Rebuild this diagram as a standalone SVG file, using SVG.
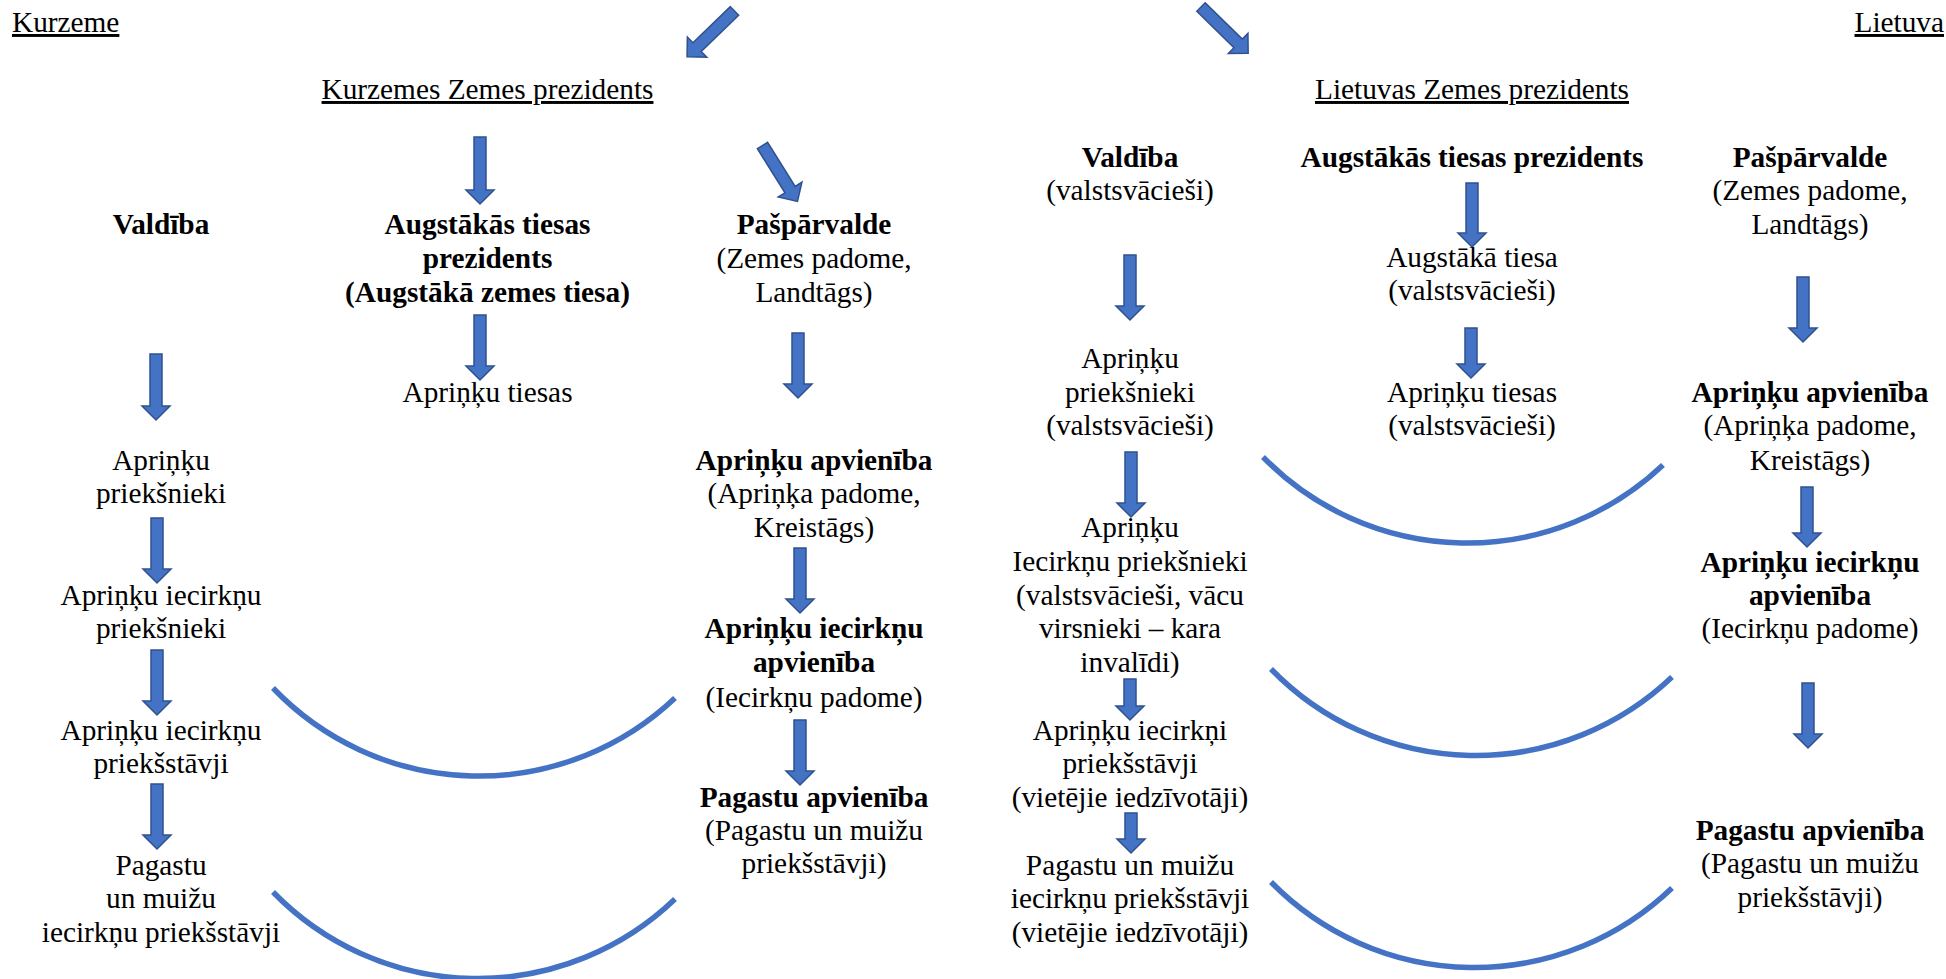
<svg xmlns="http://www.w3.org/2000/svg" width="1946" height="979" viewBox="0 0 1946 979">
<style>
text{font-family:"Liberation Serif","Times New Roman",serif;font-size:29.3px;fill:#000;text-anchor:middle}
.b{font-weight:bold}
.u{text-decoration:underline}
.arr{fill:#4472C4;stroke:#2F528F;stroke-width:1.5;stroke-linejoin:miter}
.arc{fill:none;stroke:#4472C4;stroke-width:5.5}
</style>
<defs>
<path id="darr" d="M-6,0 L6,0 L6,52 L14,52 L0,66 L-14,52 L-6,52 Z"/>
</defs>
<rect width="1946" height="979" fill="#fff"/>
<g id="connectors">
<use href="#darr" class="arr" transform="translate(734.5,11) rotate(46)"/>
<use href="#darr" class="arr" transform="translate(762.5,145.5) rotate(-32)"/>
<use href="#darr" class="arr" transform="translate(1201,7) rotate(-45.6)"/>
<polygon class="arr" points="474,137 486,137 486,190 494,190 480,204 466,190 474,190"/>
<polygon class="arr" points="474,315 486,315 486,366 494,366 480,380 466,366 474,366"/>
<polygon class="arr" points="150,354 162,354 162,406 170,406 156,420 142,406 150,406"/>
<polygon class="arr" points="151,518 163,518 163,569 171,569 157,583 143,569 151,569"/>
<polygon class="arr" points="151,650 163,650 163,701 171,701 157,715 143,701 151,701"/>
<polygon class="arr" points="151,784 163,784 163,835 171,835 157,849 143,835 151,835"/>
<polygon class="arr" points="792,333 804,333 804,384 812,384 798,398 784,384 792,384"/>
<polygon class="arr" points="794,548 806,548 806,599 814,599 800,613 786,599 794,599"/>
<polygon class="arr" points="794,720 806,720 806,771 814,771 800,785 786,771 794,771"/>
<polygon class="arr" points="1124,255 1136,255 1136,306 1144,306 1130,320 1116,306 1124,306"/>
<polygon class="arr" points="1466,183 1478,183 1478,233 1486,233 1472,247 1458,233 1466,233"/>
<polygon class="arr" points="1797,277 1809,277 1809,328 1817,328 1803,342 1789,328 1797,328"/>
<polygon class="arr" points="1465,328 1477,328 1477,364 1485,364 1471,378 1457,364 1465,364"/>
<polygon class="arr" points="1125,452 1137,452 1137,503 1145,503 1131,517 1117,503 1125,503"/>
<polygon class="arr" points="1801,487 1813,487 1813,533 1821,533 1807,547 1793,533 1801,533"/>
<polygon class="arr" points="1124,679 1136,679 1136,706 1144,706 1130,720 1116,706 1124,706"/>
<polygon class="arr" points="1125,813 1137,813 1137,839 1145,839 1131,853 1117,839 1125,839"/>
<polygon class="arr" points="1802,683 1814,683 1814,734 1822,734 1808,748 1794,734 1802,734"/>
<path class="arc" d="M273,688 A285,285 0 0 0 675,698"/>
<path class="arc" d="M273,892 A285,285 0 0 0 675,899"/>
<path class="arc" d="M1263,457 A285,285 0 0 0 1663,465"/>
<path class="arc" d="M1271,669 A285,285 0 0 0 1672,677"/>
<path class="arc" d="M1271,882 A285,285 0 0 0 1672,888"/>
</g>
<g id="kurzeme-title"><text class="u" x="12" y="32" style="text-anchor:start">Kurzeme</text></g>
<g id="lietuva-title"><text class="u" x="1944" y="32" style="text-anchor:end">Lietuva</text></g>
<g id="k-prezidents"><text class="u" x="487.5" y="99">Kurzemes Zemes prezidents</text></g>
<g id="k-valdiba"><text class="b" x="161" y="234">Valdība</text></g>
<g id="k-augstakas"><text class="b" x="487.5" y="234">Augstākās tiesas</text><text class="b" x="487.5" y="268">prezidents</text><text class="b" x="487.5" y="302">(Augstākā zemes tiesa)</text></g>
<g id="k-paspaarvalde"><text class="b" x="814" y="234">Pašpārvalde</text><text x="814" y="268">(Zemes padome,</text><text x="814" y="302">Landtāgs)</text></g>
<g id="k-aprinku-tiesas"><text x="487.5" y="402">Apriņķu tiesas</text></g>
<g id="k-aprinku-prieksnieki"><text x="161" y="470">Apriņķu</text><text x="161" y="503">priekšnieki</text></g>
<g id="k-iecirknu-prieksnieki"><text x="161" y="605">Apriņķu iecirkņu</text><text x="161" y="638">priekšnieki</text></g>
<g id="k-iecirknu-priekstavji"><text x="161" y="740">Apriņķu iecirkņu</text><text x="161" y="773">priekšstāvji</text></g>
<g id="k-pagastu"><text x="161" y="875">Pagastu</text><text x="161" y="908">un muižu</text><text x="161" y="942">iecirkņu priekšstāvji</text></g>
<g id="k-aprinku-apvieniba"><text class="b" x="814" y="470">Apriņķu apvienība</text><text x="814" y="503">(Apriņķa padome,</text><text x="814" y="537">Kreistāgs)</text></g>
<g id="k-iecirknu-apvieniba"><text class="b" x="814" y="638">Apriņķu iecirkņu</text><text class="b" x="814" y="672">apvienība</text><text x="814" y="707">(Iecirkņu padome)</text></g>
<g id="k-pagastu-apvieniba"><text class="b" x="814" y="807">Pagastu apvienība</text><text x="814" y="840">(Pagastu un muižu</text><text x="814" y="873">priekšstāvji)</text></g>
<g id="l-prezidents"><text class="u" x="1472" y="99">Lietuvas Zemes prezidents</text></g>
<g id="l-valdiba"><text class="b" x="1130" y="167">Valdība</text><text x="1130" y="200">(valstsvācieši)</text></g>
<g id="l-augstakas"><text class="b" x="1472" y="167">Augstākās tiesas prezidents</text></g>
<g id="l-paspaarvalde"><text class="b" x="1810" y="167">Pašpārvalde</text><text x="1810" y="200">(Zemes padome,</text><text x="1810" y="234">Landtāgs)</text></g>
<g id="l-augstaka-tiesa"><text x="1472" y="267">Augstākā tiesa</text><text x="1472" y="300">(valstsvācieši)</text></g>
<g id="l-aprinku-prieksnieki"><text x="1130" y="368">Apriņķu</text><text x="1130" y="402">priekšnieki</text><text x="1130" y="435">(valstsvācieši)</text></g>
<g id="l-aprinku-tiesas"><text x="1472" y="402">Apriņķu tiesas</text><text x="1472" y="435">(valstsvācieši)</text></g>
<g id="l-aprinku-apvieniba"><text class="b" x="1810" y="402">Apriņķu apvienība</text><text x="1810" y="435">(Apriņķa padome,</text><text x="1810" y="470">Kreistāgs)</text></g>
<g id="l-iecirknu-prieksnieki"><text x="1130" y="537">Apriņķu</text><text x="1130" y="571">Iecirkņu priekšnieki</text><text x="1130" y="605">(valstsvācieši, vācu</text><text x="1130" y="638">virsnieki – kara</text><text x="1130" y="672">invalīdi)</text></g>
<g id="l-iecirknu-apvieniba"><text class="b" x="1810" y="572">Apriņķu iecirkņu</text><text class="b" x="1810" y="605">apvienība</text><text x="1810" y="638">(Iecirkņu padome)</text></g>
<g id="l-iecirkni-priekstavji"><text x="1130" y="740">Apriņķu iecirkņi</text><text x="1130" y="773">priekšstāvji</text><text x="1130" y="807">(vietējie iedzīvotāji)</text></g>
<g id="l-pagastu"><text x="1130" y="875">Pagastu un muižu</text><text x="1130" y="908">iecirkņu priekšstāvji</text><text x="1130" y="942">(vietējie iedzīvotāji)</text></g>
<g id="l-pagastu-apvieniba"><text class="b" x="1810" y="840">Pagastu apvienība</text><text x="1810" y="873">(Pagastu un muižu</text><text x="1810" y="907">priekšstāvji)</text></g>
</svg>
